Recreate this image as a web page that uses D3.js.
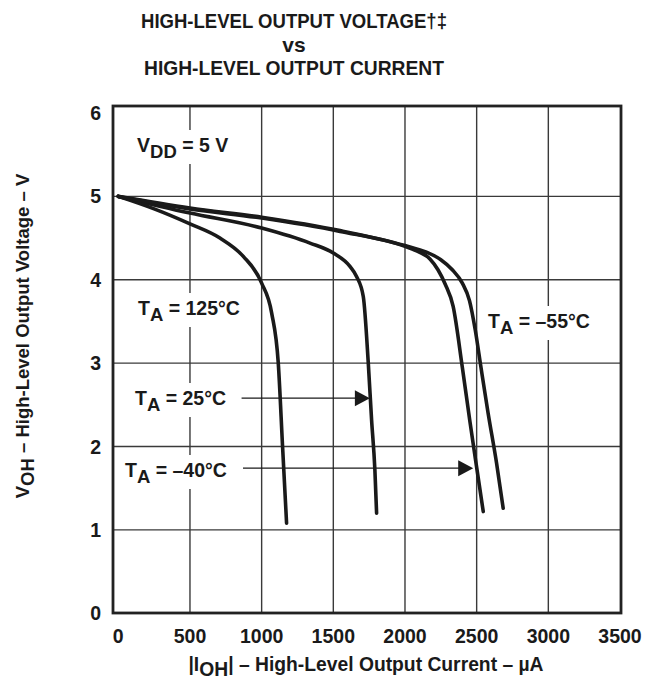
<!DOCTYPE html>
<html>
<head>
<meta charset="utf-8">
<script src="https://cdn.jsdelivr.net/npm/d3@7"></script>
<style>
  body { margin: 0; background: #fff; }
  text { font-family: "Liberation Sans", Arial, sans-serif; font-weight: bold; fill: #1a1a1a; }
</style>
</head>
<body>
<script>
var width = 659,
    height = 681;

// Tick values
var xTicks = [0, 500, 1000, 1500, 2000, 2500, 3000, 3500],
    yTicks = [0, 1, 2, 3, 4, 5, 6];

// Curves: [|IOH| in uA, VOH in V]
var curve125 = [[0, 5], [250, 4.85], [500, 4.67], [709, 4.5], [872, 4.28], [1000, 3.96],
                [1070, 3.6], [1116, 3.0], [1146, 2.0], [1174, 1.08]];
var curve25 = [[0, 5], [500, 4.8], [1000, 4.62], [1337, 4.44], [1500, 4.32], [1616, 4.16],
               [1662, 4.04], [1709, 3.8], [1744, 3.0], [1767, 2.32], [1790, 1.72], [1802, 1.2]];
var curveM40 = [[0, 5], [500, 4.85], [1000, 4.74], [1547, 4.58], [2000, 4.4], [2100, 4.33],
                [2174, 4.25], [2230, 4.12], [2280, 3.95], [2336, 3.68], [2400, 2.95],
                [2453, 2.3], [2500, 1.75], [2546, 1.22]];
var curveM55 = [[0, 5], [500, 4.86], [1000, 4.75], [1547, 4.59], [2000, 4.41], [2150, 4.33],
                [2250, 4.24], [2330, 4.12], [2400, 3.96], [2450, 3.75], [2490, 3.4],
                [2530, 2.95], [2580, 2.4], [2639, 1.8], [2685, 1.26]];

// Arrow pointers: start current, target current, voltage
var arrows = [[860, 1755, 2.58], [870, 2476, 1.74]];

var svg = d3.select("body")
            .append("svg")
            .attr("width", width)
            .attr("height", height);

var x = d3.scaleLinear().domain([0, 3500]).range([118.3, 620]),
    y = d3.scaleLinear().domain([0, 6]).range([613.3, 113]);

var frame = {left: 113, top: 106, right: 621, bottom: 613};

// grid
svg.append("g").selectAll("line")
   .data(xTicks.slice(1, -1))
   .enter().append("line")
   .attr("x1", d => x(d)).attr("x2", d => x(d))
   .attr("y1", frame.top).attr("y2", frame.bottom)
   .attr("stroke", "#3a3a3a").attr("stroke-width", 1.4);

svg.append("g").selectAll("line")
   .data(yTicks.slice(1, -1))
   .enter().append("line")
   .attr("x1", frame.left).attr("x2", frame.right)
   .attr("y1", d => y(d)).attr("y2", d => y(d))
   .attr("stroke", "#3a3a3a").attr("stroke-width", 1.4);

// curve labels, with a white box that breaks the grid lines
function label(px, py, main, sub, rest) {
  var t = svg.append("text").attr("x", px).attr("y", py)
             .attr("font-size", 19.5);
  t.append("tspan").text(main);
  t.append("tspan").attr("dy", 6).attr("font-size", 18.5).text(sub);
  t.append("tspan").attr("dy", -6).text(rest);
  var b = t.node().getBBox();
  svg.insert("rect", "text")
     .attr("x", b.x - 5).attr("y", b.y - 4)
     .attr("width", b.width + 10).attr("height", b.height + 6)
     .attr("fill", "#fff");
  return t;
}

label(137, 152, "V", "DD", " = 5 V");
label(138, 315, "T", "A", " = 125\u00B0C");
label(135, 405, "T", "A", " = 25\u00B0C");
label(125, 477, "T", "A", " = \u201340\u00B0C");
label(488, 328, "T", "A", " = \u201355\u00B0C");

// arrows
svg.append("g").selectAll("line")
   .data(arrows)
   .enter().append("line")
   .attr("x1", d => x(d[0])).attr("x2", d => x(d[1]) - 12)
   .attr("y1", d => y(d[2])).attr("y2", d => y(d[2]))
   .attr("stroke", "#1a1a1a").attr("stroke-width", 1.3);

svg.append("g").selectAll("path")
   .data(arrows)
   .enter().append("path")
   .attr("d", function(d) {
     var tx = x(d[1]), ty = y(d[2]);
     return "M" + tx + "," + ty + "L" + (tx - 15) + "," + (ty - 8) + "L" + (tx - 15) + "," + (ty + 8) + "Z";
   })
   .attr("fill", "#1a1a1a");

// curves
var line = d3.line()
    .x(d => x(d[0]))
    .y(d => y(d[1]))
    .curve(d3.curveMonotoneX);

svg.append("g").selectAll("path")
   .data([curve125, curve25, curveM40, curveM55])
   .enter().append("path")
   .attr("d", line)
   .attr("fill", "none")
   .attr("stroke", "#1a1a1a")
   .attr("stroke-width", 3.6)
   .attr("stroke-linecap", "round")
   .attr("stroke-linejoin", "round");

// frame
svg.append("rect")
   .attr("x", frame.left).attr("y", frame.top)
   .attr("width", frame.right - frame.left).attr("height", frame.bottom - frame.top)
   .attr("fill", "none").attr("stroke", "#222").attr("stroke-width", 2.8);

// tick labels
svg.append("g").selectAll("text")
   .data(xTicks)
   .enter().append("text")
   .attr("x", d => x(d)).attr("y", 643)
   .attr("text-anchor", "middle").attr("font-size", 19.5)
   .text(d => d);

svg.append("g").selectAll("text")
   .data(yTicks)
   .enter().append("text")
   .attr("x", 101).attr("y", d => y(d) + 7)
   .attr("text-anchor", "end").attr("font-size", 19.5)
   .text(d => d);

// title (long lines are condensed like the original face)
var titleLines = ["HIGH-LEVEL OUTPUT VOLTAGE\u2020\u2021", "vs", "HIGH-LEVEL OUTPUT CURRENT"],
    titleLengths = [306, null, 300];
var tt = svg.append("g").selectAll("text")
   .data(titleLines)
   .enter().append("text")
   .attr("x", 294).attr("y", (d, i) => 28 + i * 23.5)
   .attr("text-anchor", "middle").attr("font-size", 21)
   .text(d => d);
tt.filter((d, i) => titleLengths[i])
  .attr("textLength", (d, i) => d === titleLines[0] ? titleLengths[0] : titleLengths[2])
  .attr("lengthAdjust", "spacingAndGlyphs");

// x axis label
var xl = svg.append("text").attr("x", 366).attr("y", 671)
            .attr("text-anchor", "middle").attr("font-size", 19.3);
xl.append("tspan").text("|I");
xl.append("tspan").attr("dy", 5).text("OH");
xl.append("tspan").attr("dy", -5).text("| \u2013 High-Level Output Current \u2013 \u00B5A");

// y axis label
var yl = svg.append("text")
            .attr("transform", "translate(29,336) rotate(-90)")
            .attr("text-anchor", "middle").attr("font-size", 18.5);
yl.append("tspan").text("V");
yl.append("tspan").attr("dy", 5).text("OH");
yl.append("tspan").attr("dy", -5).text(" \u2013 High-Level Output Voltage \u2013 V");
</script>
</body>
</html>
